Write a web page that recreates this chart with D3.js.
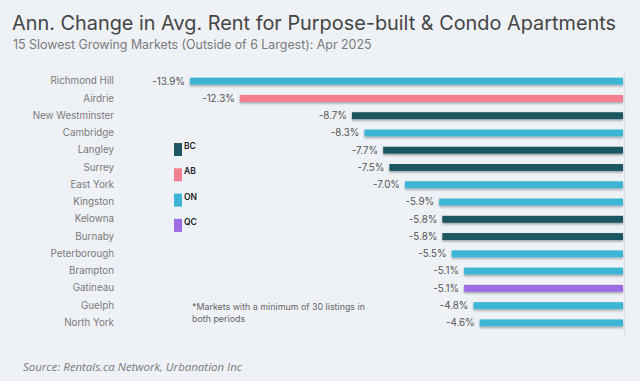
<!DOCTYPE html>
<html><head><meta charset="utf-8">
<script src="https://cdn.jsdelivr.net/npm/d3@7/dist/d3.min.js"></script>
<style>body{margin:0;background:#eef1f6;}svg{display:block;font-family:Inter,"Noto Sans",sans-serif;}</style>
</head><body><svg id="c" width="640" height="381"></svg>
<script>
const markets = ["Richmond Hill","Airdrie","New Westminster","Cambridge","Langley","Surrey","East York","Kingston","Kelowna","Burnaby","Peterborough","Brampton","Gatineau","Guelph","North York"];
const values = [-13.9,-12.3,-8.7,-8.3,-7.7,-7.5,-7.0,-5.9,-5.8,-5.8,-5.5,-5.1,-5.1,-4.8,-4.6];
const provinces = ["ON","AB","BC","ON","BC","BC","ON","ON","BC","BC","ON","ON","QC","ON","ON"];
const legendKeys = ["BC","AB","ON","QC"];
const legendColors = ["#1f5661","#f27f8f","#3db6d5","#9d6ce2"];

const svg = d3.select("#c");
svg.append("rect").attr("width",640).attr("height",381).attr("fill","#eef1f6");
const defs = svg.append("defs");
const f = defs.append("filter").attr("id","sh").attr("x","-5%").attr("y","-50%").attr("width","110%").attr("height","250%");
f.append("feDropShadow").attr("dx",0).attr("dy",1.5).attr("stdDeviation",0.8).attr("flood-color","#000").attr("flood-opacity",0.35);

const color = d3.scaleOrdinal().domain(legendKeys).range(legendColors);
const x = d3.scaleLinear().domain([-13.9,0]).range([190,623]);
const y = d3.scaleBand().domain(markets).range([72.5,331.5]).paddingInner(0.6).paddingOuter(0.3);

svg.append("text").attr("x",12).attr("y",30).attr("font-size",19.8).attr("fill","#454545")
  .attr("textLength",604).attr("lengthAdjust","spacingAndGlyphs")
  .text("Ann. Change in Avg. Rent for Purpose-built & Condo Apartments");
svg.append("text").attr("x",13).attr("y",49).attr("font-size",12.4).attr("fill","#7a7a7a")
  .text("15 Slowest Growing Markets (Outside of 6 Largest): Apr 2025");

svg.append("line").attr("x1",624.5).attr("x2",624.5).attr("y1",73).attr("y2",338).attr("stroke","#dde0e5").attr("stroke-width",1);

const data = markets.map((m,i)=>({m,v:values[i],p:provinces[i]}));

svg.append("g").selectAll("rect").data(data).join("rect")
  .attr("x",d=>x(d.v)).attr("width",d=>x(0)-x(d.v))
  .attr("y",d=>y(d.m)).attr("height",y.bandwidth())
  .attr("fill",d=>color(d.p)).attr("filter","url(#sh)");

const yAxis = svg.append("g").attr("transform","translate(118,0)").call(d3.axisLeft(y).tickSize(0).tickPadding(4));
yAxis.select(".domain").remove();
yAxis.selectAll("text").attr("font-size",9.8).attr("fill","#7a7a7a").attr("font-family","Inter,'Noto Sans',sans-serif");

svg.append("g").selectAll("text").data(data).join("text")
  .attr("x",d=>x(d.v)-5).attr("y",d=>y(d.m)+y.bandwidth()/2).attr("dy","0.35em")
  .attr("text-anchor","end").attr("font-size",9.8).attr("fill","#555")
  .text(d=>d.v.toFixed(1)+"%");

const lg = svg.append("g").selectAll("g").data(legendKeys).join("g")
  .attr("transform",(d,i)=>`translate(174,${143+i*25.3})`);
lg.append("rect").attr("width",8).attr("height",13).attr("fill",d=>color(d));
lg.append("text").attr("x",10).attr("y",6).attr("font-size",8.5).attr("font-weight",600).attr("fill","#222").text(d=>d);

svg.append("text").attr("x",192).attr("y",310).attr("font-size",8.9).attr("fill","#666")
  .text("*Markets with a minimum of 30 listings in");
svg.append("text").attr("x",192).attr("y",321.5).attr("font-size",8.9).attr("fill","#666")
  .text("both periods");

svg.append("text").attr("x",23).attr("y",371).attr("font-size",11.3).attr("font-style","italic").attr("fill","#7a7a7a")
  .attr("font-family","'Open Sans','Noto Sans',sans-serif").attr("textLength",219).attr("lengthAdjust","spacingAndGlyphs")
  .text("Source: Rentals.ca Network, Urbanation Inc");
</script></body></html>
